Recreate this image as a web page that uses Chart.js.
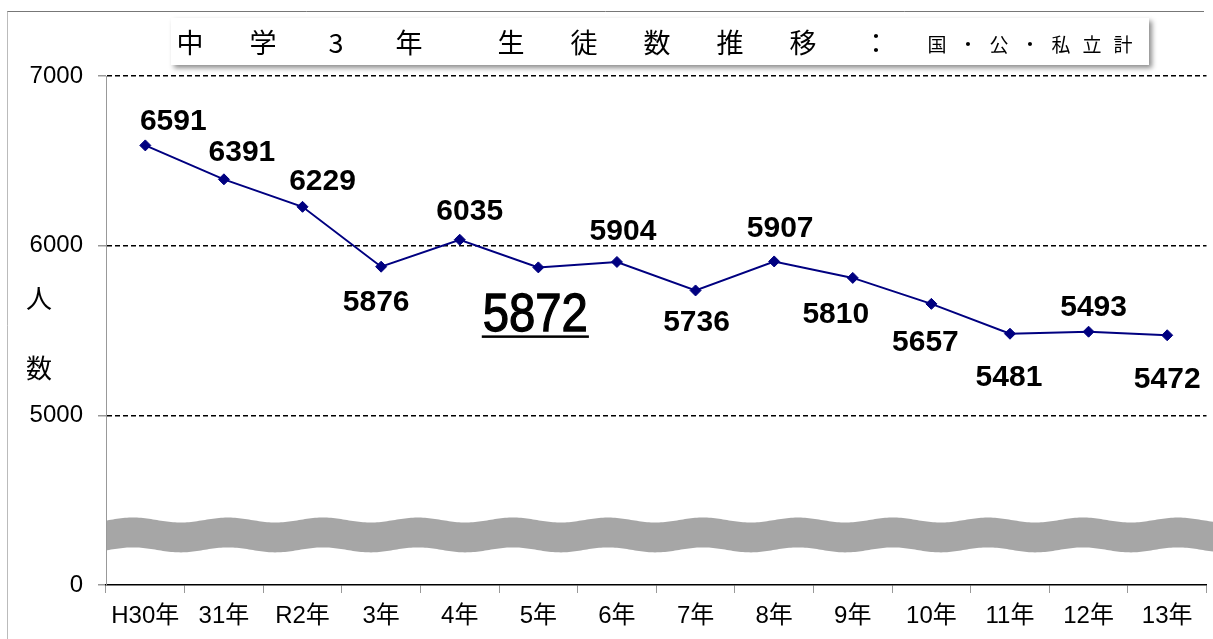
<!DOCTYPE html>
<html>
<head>
<meta charset="utf-8">
<script src="https://cdn.jsdelivr.net/npm/chart.js@4/dist/chart.umd.min.js"></script>
<style>
  html, body { margin: 0; padding: 0; background: #fff; }
  canvas { display: block; }
</style>
</head>
<body>
<canvas id="chart" width="1213" height="639"></canvas>
<script>
const categories = ['H30年', '31年', 'R2年', '3年', '4年', '5年', '6年', '7年', '8年', '9年', '10年', '11年', '12年', '13年']
const students = [6591, 6391, 6229, 5876, 6035, 5872, 5904, 5736, 5907, 5810, 5657, 5481, 5493, 5472]
const yTicks = [4000, 5000, 6000, 7000]
const yTickLabels = ['0', '5000', '6000', '7000']
const highlightIndex = 5

// label placement relative to its point (dx, dy in px)
const labelOffset = [
  [28, -26], [18, -29], [20, -28], [-5, 34], [10, -30], [-3, 44], [6, -33],
  [1, 30], [6, -35], [-17, 34], [-6, 36], [-1, 42], [5, -26], [0, 42],
]

const CJK = '"Noto Sans CJK JP", "Liberation Sans", sans-serif'
const LAT = '"Liberation Sans", "Noto Sans CJK JP", sans-serif'

const decorPlugin = {
  id: 'decor',
  beforeDraw(chart) {
    const ctx = chart.ctx
    ctx.save()
    ctx.fillStyle = '#fff'
    ctx.fillRect(0, 0, chart.width, chart.height)
    ctx.lineWidth = 1
    ctx.strokeStyle = '#777'
    ctx.beginPath()
    ctx.moveTo(7, 11.5)
    ctx.lineTo(1204, 11.5)
    ctx.stroke()
    ctx.strokeStyle = '#bbb'
    ctx.beginPath()
    ctx.moveTo(7.5, 11.5)
    ctx.lineTo(7.5, chart.height)
    ctx.stroke()

    ctx.fillStyle = '#000'
    ctx.font = '26px ' + CJK
    ctx.textAlign = 'center'
    ctx.textBaseline = 'middle'
    ctx.fillText('人', 39, 298)
    ctx.fillText('数', 39, 368)
    ctx.restore()
  },
  beforeDatasetsDraw(chart) {
    // axis break band
    const ctx = chart.ctx
    const y = chart.scales.y
    const top = y.getPixelForValue(4383)
    const bot = y.getPixelForValue(4207)
    const x0 = chart.chartArea.left + 1
    const x1 = chart.width
    const wave = x => -2.5 * Math.cos(2 * Math.PI * (x - 133) / 95)
    ctx.save()
    ctx.fillStyle = '#a6a6a6'
    ctx.beginPath()
    ctx.moveTo(x0, top + wave(x0))
    for (let x = x0; x <= x1; x += 2) ctx.lineTo(x, top + wave(x))
    for (let x = x1; x >= x0; x -= 2) ctx.lineTo(x, bot + wave(x))
    ctx.closePath()
    ctx.fill()
    ctx.restore()
  },
  afterDatasetsDraw(chart) {
    const ctx = chart.ctx
    const meta = chart.getDatasetMeta(0)
    ctx.save()
    ctx.fillStyle = '#000'
    ctx.strokeStyle = '#000'
    ctx.textAlign = 'center'
    ctx.textBaseline = 'alphabetic'
    meta.data.forEach((pt, i) => {
      const cx = pt.x + labelOffset[i][0]
      const cy = pt.y + labelOffset[i][1]
      const text = String(students[i])
      if (i === highlightIndex) {
        const size = 54
        ctx.save()
        ctx.font = size + 'px ' + LAT
        ctx.translate(cx, cy + 0.358 * size)
        ctx.scale(0.875, 1)
        ctx.lineWidth = 1.3
        ctx.fillText(text, 0, 0)
        ctx.strokeText(text, 0, 0)
        const w = ctx.measureText(text).width
        ctx.restore()
        const hw = w * 0.875 / 2 + 1
        ctx.fillRect(cx - hw, cy + 24, hw * 2, 2.5)
      } else {
        const size = 30
        ctx.font = 'bold ' + size + 'px ' + LAT
        ctx.fillText(text, cx, cy + 0.358 * size)
      }
    })
    ctx.restore()
  },
  afterDraw(chart) {
    const ctx = chart.ctx
    ctx.save()
    ctx.shadowColor = 'rgba(0,0,0,0.45)'
    ctx.shadowBlur = 5
    ctx.shadowOffsetX = 3
    ctx.shadowOffsetY = 3
    ctx.fillStyle = '#fff'
    ctx.fillRect(171, 18, 978, 47)
    ctx.restore()

    ctx.save()
    ctx.fillStyle = '#000'
    ctx.textAlign = 'center'
    ctx.textBaseline = 'middle'
    ctx.font = '27px ' + CJK
    let x = 190
    for (const ch of '中学3年') { ctx.fillText(ch, x, 43); x += 73 }
    x = 511
    for (const ch of '生徒数推移：') { ctx.fillText(ch, x, 43); x += 73 }
    ctx.font = '19px ' + CJK
    x = 937
    for (const ch of '国・公・私立計') { ctx.fillText(ch, x, 45); x += 31 }
    ctx.restore()
  },
}

new Chart(document.getElementById('chart'), {
  type: 'line',
  data: {
    labels: categories,
    datasets: [{
      data: students,
      borderColor: '#000080',
      backgroundColor: '#000080',
      borderWidth: 2,
      tension: 0,
      pointStyle: 'rectRot',
      pointRadius: 5.5,
      pointBackgroundColor: '#000080',
      pointBorderColor: '#000080',
      pointBorderWidth: 1,
    }],
  },
  plugins: [decorPlugin],
  options: {
    responsive: false,
    devicePixelRatio: 1,
    animation: false,
    layout: { padding: { top: 76, right: 6, left: 0, bottom: 0 } },
    plugins: {
      legend: { display: false },
      title: { display: false },
      tooltip: { enabled: false },
    },
    scales: {
      x: {
        offset: true,
        afterFit: s => { s.height = 54 },
        grid: {
          offset: true,
          drawOnChartArea: false,
          tickLength: 8,
          tickColor: '#999',
        },
        border: { color: '#000', width: 1.5 },
        ticks: {
          color: '#000',
          padding: 9,
          maxRotation: 0,
          autoSkip: false,
          font: { family: LAT, size: 24 },
        },
      },
      y: {
        min: 4000,
        max: 7000,
        afterFit: s => { s.width = 106 },
        afterBuildTicks: s => { s.ticks = yTicks.map(v => ({ value: v })) },
        grid: {
          color: c => (c.tick && c.tick.value === 4000 ? 'transparent' : '#000'),
          lineWidth: 1.5,
          tickLength: 8,
          tickColor: '#999',
        },
        border: { color: '#999', width: 1, dash: [5, 3] },
        ticks: {
          color: '#000',
          padding: 15,
          font: { family: LAT, size: 24 },
          callback: v => yTickLabels[yTicks.indexOf(v)],
        },
      },
    },
  },
})
</script>
</body>
</html>
